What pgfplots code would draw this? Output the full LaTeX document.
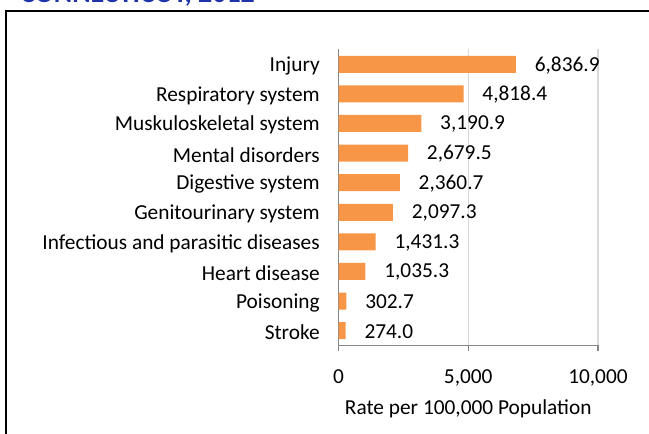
\documentclass[border=0pt]{standalone}
\usepackage{pgfplots}
\pgfplotsset{compat=1.18}
\usepackage{fontspec}
\setmainfont{Carlito}
\definecolor{barorange}{HTML}{F79646}
\definecolor{axgray}{HTML}{868686}
\definecolor{gridgray}{HTML}{D9D9D9}
\definecolor{titleblue}{HTML}{1F32A8}
\begin{document}
\fontsize{16}{19}\selectfont
\begin{tikzpicture}
\clip (0,0) rectangle (486.75pt,325.5pt);
\node[anchor=base west,inner sep=0pt,font=\fontsize{21}{25}\selectfont\bfseries,text=titleblue] at (15pt,323.5pt) {CONNECTICUT, 2012};
\draw[line width=1.9pt] (4.5pt,-10pt) -- (4.5pt,317.25pt) -- (500pt,317.25pt);
\begin{axis}[
  at={(253.875pt,66.375pt)}, anchor=south west,
  scale only axis, width=194.6pt, height=222pt,
  xbar, bar width=12.75pt,
  xmin=0, xmax=10000,
  ymin=0.5, ymax=10.5, y dir=reverse,
  ytick={1,...,10},
  yticklabels={Injury,Respiratory system,Muskuloskeletal system,Mental disorders,Digestive system,Genitourinary system,Infectious and parasitic diseases,Heart disease,Poisoning,Stroke},
  minor ytick={0.5,1.5,...,10.5},
  major tick length=3.75pt, minor tick length=3.75pt,
  ytick style={draw=none},
  minor tick style={axgray, line width=0.8pt},
  xtick={0,5000,10000},
  xtick style={axgray, line width=0.8pt},
  tick align=outside,
  axis x line*=bottom, axis y line*=left,
  axis line style={axgray, line width=0.8pt, -},
  xmajorgrids, major grid style={gridgray, line width=0.8pt},
  /pgf/number format/assume math mode=true,
  /pgf/number format/1000 sep={,},
  scaled x ticks=false,
  tick label style={font=\fontsize{16}{19}\selectfont},
  yticklabel style={xshift=-4.8pt, yshift=-1.2pt},
  xticklabel style={yshift=-9pt},
  xlabel={Rate per 100,000 Population},
  xlabel style={at={(axis description cs:0.5,0)}, anchor=center, yshift=-47.2pt, font=\fontsize{16}{19}\selectfont},
  point meta=x,
  nodes near coords={\pgfmathprintnumber[fixed,fixed zerofill,precision=1,1000 sep={,},assume math mode=true]{\pgfplotspointmeta}},
  nodes near coords style={anchor=west, inner sep=0pt, xshift=14pt, yshift=-0.6pt, font=\fontsize{16}{19}\selectfont, text=black},
]
\addplot[fill=barorange, draw=none] coordinates {
(6836.9,1) (4818.4,2) (3190.9,3) (2679.5,4) (2360.7,5)
(2097.3,6) (1431.3,7) (1035.3,8) (302.7,9) (274.0,10)};
\end{axis}
\end{tikzpicture}
\end{document}
